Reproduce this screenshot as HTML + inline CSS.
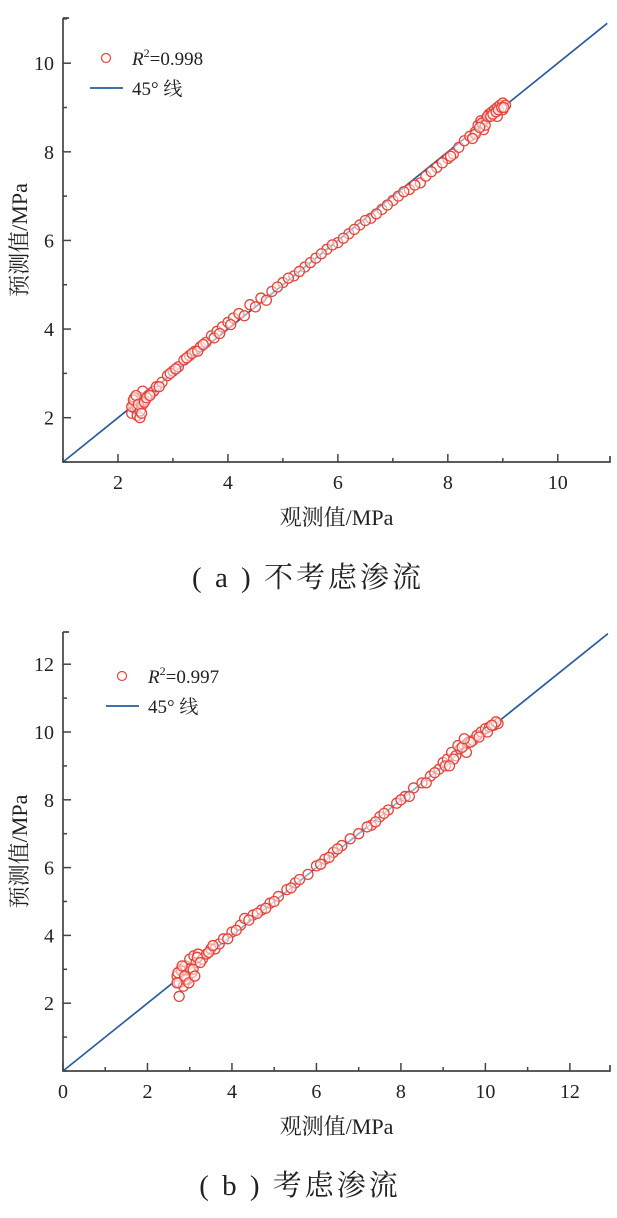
<!DOCTYPE html>
<html><head><meta charset="utf-8">
<style>
body{margin:0;background:#fff;width:617px;height:1218px;overflow:hidden}
svg{display:block;font-family:"Liberation Serif","Noto Serif CJK SC",serif}
</style></head>
<body>
<svg id="s" width="617" height="1218">
<text x="308" y="587" text-anchor="middle" font-size="29" fill="#222" letter-spacing="3">( a ) 不考虑渗流</text>
<text x="300" y="1195" text-anchor="middle" font-size="29" fill="#222" letter-spacing="3">( b ) 考虑渗流</text>
</svg>
<script>
// chart a data
const obsA=[2.25,2.28,2.3,2.32,2.35,2.38,2.4,2.42,2.45,2.3,2.35,2.4,2.25,2.45,2.5,2.55,2.6,2.65,2.7,2.8,2.9,3.0,3.1,3.2,3.3,3.4,3.5,3.6,3.7,3.8,3.9,4.0,4.1,4.2,4.4,4.6,4.8,5.0,5.2,5.4,5.5,5.6,5.8,6.0,6.2,6.4,6.6,6.8,7.0,7.1,7.3,7.5,7.6,7.8,8.0,8.1,8.2,8.3,8.4,8.5,8.55,8.6,8.7,8.75,8.8,8.85,8.9,8.95,9.0,9.05,8.65,8.5,8.9,9.0,2.28,2.33,2.37,2.43,2.48,2.52,2.58,2.75,2.95,3.05,3.25,3.35,3.45,3.55,3.75,3.85,4.05,4.3,4.5,4.7,4.9,5.1,5.3,5.7,5.9,6.1,6.3,6.5,6.7,6.9,7.2,7.4,7.7,7.9,8.05,8.45,8.62,8.68,8.72,8.78,8.82,8.88,8.92,8.98,9.02,8.58];
const predA=[2.1,2.3,2.4,2.2,2.05,2.35,2.0,2.45,2.6,2.45,2.25,2.15,2.25,2.3,2.4,2.5,2.55,2.6,2.7,2.8,2.95,3.05,3.15,3.3,3.4,3.5,3.6,3.7,3.85,3.95,4.05,4.15,4.25,4.35,4.55,4.7,4.85,5.05,5.2,5.4,5.5,5.6,5.8,5.95,6.15,6.35,6.5,6.7,6.9,7.0,7.15,7.3,7.45,7.65,7.85,7.95,8.1,8.25,8.35,8.45,8.6,8.7,8.75,8.85,8.9,8.95,9.0,9.05,9.1,9.05,8.5,8.4,8.8,8.95,2.4,2.5,2.3,2.1,2.35,2.45,2.5,2.7,3.0,3.1,3.35,3.45,3.5,3.65,3.8,3.9,4.1,4.3,4.5,4.65,4.95,5.15,5.3,5.7,5.9,6.05,6.25,6.45,6.6,6.8,7.1,7.25,7.55,7.75,7.9,8.3,8.65,8.6,8.8,8.8,8.85,8.9,8.95,9.0,9.0,8.55];
const ticksA=[2,4,6,8,10];
// chart b data
const obsB=[2.7,2.75,2.8,2.85,2.9,2.95,3.0,3.05,3.1,3.15,2.75,2.8,2.9,3.0,2.7,3.2,3.3,3.4,3.5,3.6,3.7,3.8,4.0,4.2,4.3,4.5,4.7,4.9,5.1,5.3,5.5,5.8,6.0,6.2,6.4,6.6,7.0,7.3,7.5,7.7,7.9,8.1,8.3,8.5,8.7,8.9,9.0,9.1,9.2,9.3,9.4,9.5,9.6,9.7,9.8,9.9,10.0,10.1,10.2,10.3,9.35,9.55,10.25,2.72,2.82,2.88,2.98,3.08,3.12,3.18,3.25,3.45,3.55,3.9,4.1,4.4,4.6,4.8,5.0,5.4,5.6,6.1,6.3,6.5,6.8,7.2,7.4,7.6,8.0,8.2,8.6,8.8,9.05,9.25,9.45,9.65,9.85,10.05,10.15,9.15,9.5];
const predB=[2.8,2.6,3.0,2.5,3.1,2.7,3.3,2.9,3.4,3.2,2.2,2.95,2.7,3.0,2.6,3.45,3.3,3.45,3.6,3.6,3.75,3.9,4.1,4.3,4.5,4.6,4.75,4.95,5.15,5.35,5.55,5.8,6.05,6.25,6.45,6.65,7.0,7.25,7.5,7.7,7.9,8.1,8.35,8.5,8.7,8.9,9.1,9.2,9.4,9.3,9.5,9.6,9.7,9.75,9.9,10.0,10.1,10.15,10.2,10.25,9.6,9.4,10.3,2.9,3.1,2.8,2.6,3.0,2.8,3.35,3.2,3.5,3.7,3.9,4.15,4.45,4.65,4.8,5.0,5.4,5.65,6.1,6.3,6.55,6.85,7.2,7.35,7.6,8.0,8.1,8.5,8.8,9.0,9.2,9.55,9.7,9.85,10.0,10.2,9.0,9.8];
const ticksB=[0,2,4,6,8,10,12];
const NS='http://www.w3.org/2000/svg';
const svg=document.getElementById('s');
function el(t,a,p){const e=document.createElementNS(NS,t);for(const k in a)e.setAttribute(k,a[k]);(p||svg).appendChild(e);return e;}
function chart(cfg,obs,pred,ticks,r2,key){
  const g=el('g',{});
  
  
  const sx=v=>cfg.L+(v-cfg.x0)*(cfg.R-cfg.L)/(cfg.x1-cfg.x0);
  const sy=v=>cfg.B-(v-cfg.y0)*(cfg.B-cfg.T)/(cfg.y1-cfg.y0);
  const ln=el('line',{x1:sx(cfg.x0),y1:sy(cfg.x0),x2:sx(cfg.lineEnd),y2:sy(cfg.lineEnd),stroke:'#2a5c9e','stroke-width':1.7},g);
  
  
  for(let i=0;i<obs.length;i++){
    const c=el('circle',{cx:sx(obs[i]),cy:sy(pred[i]),r:5,fill:'#fff','fill-opacity':0.5,stroke:'#e5443a','stroke-width':1.3},g);
    
    
  }
  const ax=el('path',{d:`M${cfg.L},${cfg.T} H${cfg.L+6} M${cfg.L},${cfg.T} V${cfg.B} H${cfg.R} V${cfg.B-6}`,fill:'none',stroke:'#444','stroke-width':1.7},g);
  
  
  for(let v=Math.ceil(cfg.x0);v<=cfg.x1;v++){
    const major=ticks.includes(v);
    el('line',{x1:sx(v),x2:sx(v),y1:cfg.B,y2:cfg.B-(major?8:4),stroke:'#444','stroke-width':1.5},g);
    if(major){const t=el('text',{x:sx(v),y:cfg.B+27,'text-anchor':'middle','font-size':20,fill:'#222'},g);t.textContent=v;
      
      }
  }
  for(let v=Math.ceil(cfg.y0);v<=cfg.y1;v++){
    const major=ticks.includes(v)&&v>0;
    el('line',{x1:cfg.L,x2:cfg.L+(major?8:4),y1:sy(v),y2:sy(v),stroke:'#444','stroke-width':1.5},g);
    if(major){const t=el('text',{x:cfg.L-9,y:sy(v)+7,'text-anchor':'end','font-size':20,fill:'#222'},g);t.textContent=v;
      
      }
  }
  const xt=el('text',{x:(cfg.L+cfg.R)/2,y:cfg.B+63,'text-anchor':'middle','font-size':22,fill:'#222'},g);
  xt.textContent='观测值/MPa';
  
  
  const yc=(cfg.T+cfg.B)/2;
  const yt=el('text',{x:27,y:yc,'text-anchor':'middle','font-size':22,fill:'#222',transform:`rotate(-90 27 ${yc})`},g);
  yt.textContent='预测值/MPa';
  
  
  const lg=el('g',{},g);
  
  
  el('circle',{cx:cfg.lx+16,cy:cfg.ly,r:4.5,fill:'none',stroke:'#e5443a','stroke-width':1.2},lg);
  const t1=el('text',{x:cfg.lx+42,y:cfg.ly+7,'font-size':19,fill:'#222'},lg);
  t1.innerHTML='<tspan font-style="italic">R</tspan><tspan font-size="12" dy="-8">2</tspan><tspan dy="8">='+r2+'</tspan>';
  el('line',{x1:cfg.lx,x2:cfg.lx+33,y1:cfg.ly+30,y2:cfg.ly+30,stroke:'#2a5c9e','stroke-width':1.7},lg);
  const t2=el('text',{x:cfg.lx+42,y:cfg.ly+37,'font-size':19,fill:'#222'},lg);
  t2.textContent='45° 线';
}
chart({L:63,R:610,T:18,B:462,x0:1,x1:10.95,y0:1,y1:11.02,lineEnd:10.9,lx:90,ly:58},obsA,predA,ticksA,'0.998','a');
chart({L:63,R:610,T:632,B:1071,x0:0,x1:12.95,y0:0,y1:12.95,lineEnd:12.9,lx:106,ly:676},obsB,predB,ticksB,'0.997','b');
</script>
</body></html>
